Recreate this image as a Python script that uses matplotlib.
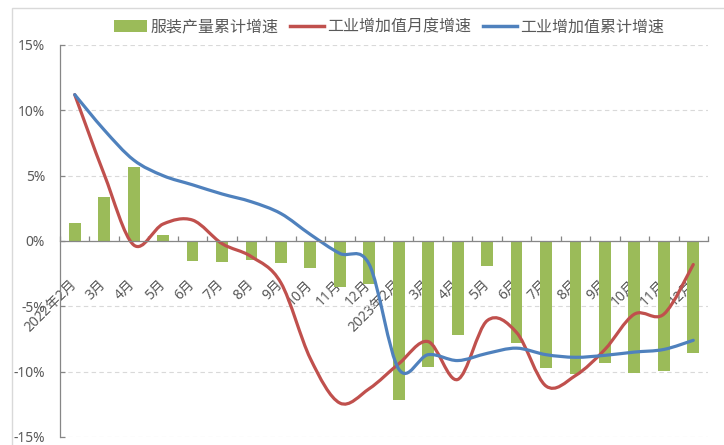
import numpy as np
import matplotlib
matplotlib.use('Agg')
import matplotlib.pyplot as plt
from matplotlib.path import Path
from matplotlib.patches import PathPatch, Patch, Rectangle
from matplotlib.lines import Line2D
from matplotlib.transforms import ScaledTranslation

plt.rcParams['font.family'] = ['Noto Sans', 'Noto Sans CJK SC', 'DejaVu Sans']

months = ['2022年2月', '3月', '4月', '5月', '6月', '7月', '8月', '9月', '10月', '11月', '12月',
          '2023年2月', '3月', '4月', '5月', '6月', '7月', '8月', '9月', '10月', '11月', '12月']

# 服装产量累计增速 (bars)
garment_cum = [1.4, 3.4, 5.65, 0.45, -1.5, -1.6, -1.45, -1.7, -2.1, -3.5, -3.3,
               -12.2, -9.65, -7.2, -1.9, -7.8, -9.7, -10.2, -9.3, -10.1, -9.95, -8.6]
# 工业增加值月度增速 (red)
va_month = [11.2, 5.1, -0.3, 1.3, 1.6, -0.2, -1.2, -3.2, -9.0, -12.4, -11.3,
            -9.4, -7.7, -10.6, -6.1, -7.0, -11.1, -10.3, -8.3, -5.6, -5.6, -1.8]
# 工业增加值累计增速 (blue)
va_cum = [11.2, 8.5, 6.2, 5.0, 4.3, 3.6, 3.0, 2.1, 0.5, -0.95, -1.8,
          -9.8, -8.7, -9.15, -8.6, -8.2, -8.7, -8.9, -8.75, -8.5, -8.3, -7.6]

legend_labels = ['服装产量累计增速', '工业增加值月度增速', '工业增加值累计增速']

GREEN = '#9BBB59'
RED = '#C0504D'
BLUE = '#4F81BD'
GRAY_TXT = '#595959'
AXIS = '#868686'


def smooth_path(x, y):
    # bezier through the points, like excel's "smoothed line"
    x = np.asarray(x, float)
    y = np.asarray(y, float)
    n = len(x)
    verts = [(x[0], y[0])]
    codes = [Path.MOVETO]
    for i in range(n - 1):
        i0 = max(i - 1, 0)
        i3 = min(i + 2, n - 1)
        c1 = (x[i] + (x[i + 1] - x[i0]) / 6, y[i] + (y[i + 1] - y[i0]) / 6)
        c2 = (x[i + 1] - (x[i3] - x[i]) / 6, y[i + 1] - (y[i3] - y[i]) / 6)
        verts += [c1, c2, (x[i + 1], y[i + 1])]
        codes += [Path.CURVE4] * 3
    return Path(verts, codes)


fig = plt.figure(figsize=(7.24, 4.45), dpi=100)
ax = fig.add_axes([60 / 724, 1 - 437 / 445, 648 / 724, 392 / 445])

x = np.arange(len(months))
ax.bar(x, garment_cum, width=0.4, color=GREEN, zorder=2)

for vals, col in [(va_month, RED), (va_cum, BLUE)]:
    ax.add_patch(PathPatch(smooth_path(x, vals), fill=False, edgecolor=col, lw=2.3,
                           capstyle='round', joinstyle='round', zorder=3))

ax.set_xlim(-0.5, len(months) - 0.5)
ax.set_ylim(-15, 15)
yt = [-15, -10, -5, 0, 5, 10, 15]
ax.set_yticks(yt)
ax.set_yticklabels([f'{v}%' for v in yt])
ax.yaxis.grid(True, linestyle=(0, (4, 3)), color='#d9d9d9', lw=0.8, zorder=0)
ax.set_axisbelow(True)

ax.spines['top'].set_visible(False)
ax.spines['right'].set_visible(False)
ax.spines['bottom'].set_position(('data', 0))
for s in ['left', 'bottom']:
    ax.spines[s].set_color(AXIS)
    ax.spines[s].set_linewidth(0.9)
    ax.spines[s].set_zorder(4)

ax.set_xticks(x)
ax.set_xticks(np.arange(-0.5, len(months)), minor=True)
ax.tick_params(axis='x', which='major', length=0, pad=26, labelsize=10, labelcolor=GRAY_TXT)
ax.tick_params(axis='x', which='minor', direction='in', length=3.6, color=AXIS, width=0.9)
ax.tick_params(axis='y', direction='in', length=3.6, color=AXIS, width=0.9, pad=10.8,
               labelsize=10, labelcolor=GRAY_TXT)
ax.set_xticklabels(months)
shift = ScaledTranslation(5 / 100, 0, fig.dpi_scale_trans)
for lbl in ax.get_xticklabels():
    lbl.set_rotation(45)
    lbl.set_ha('right')
    lbl.set_va('top')
    lbl.set_transform(lbl.get_transform() + shift)

handles = [Patch(facecolor=GREEN, edgecolor='none'),
           Line2D([], [], color=RED, lw=2.5),
           Line2D([], [], color=BLUE, lw=2.5)]
fig.legend(handles, legend_labels, loc='center', bbox_to_anchor=(0.537, 0.939), ncol=3,
           frameon=False, handlelength=2.1, handletextpad=0.2,
           columnspacing=0.75, labelcolor=GRAY_TXT,
           prop={'family': ['Noto Sans CJK SC'], 'size': 11.5})

fig.add_artist(Rectangle((12 / 724, -0.01), 0.99, 1.01 - 8 / 445, transform=fig.transFigure,
                         fill=False, edgecolor='#d9d9d9', lw=1))

fig.savefig('out.png', dpi=100)
